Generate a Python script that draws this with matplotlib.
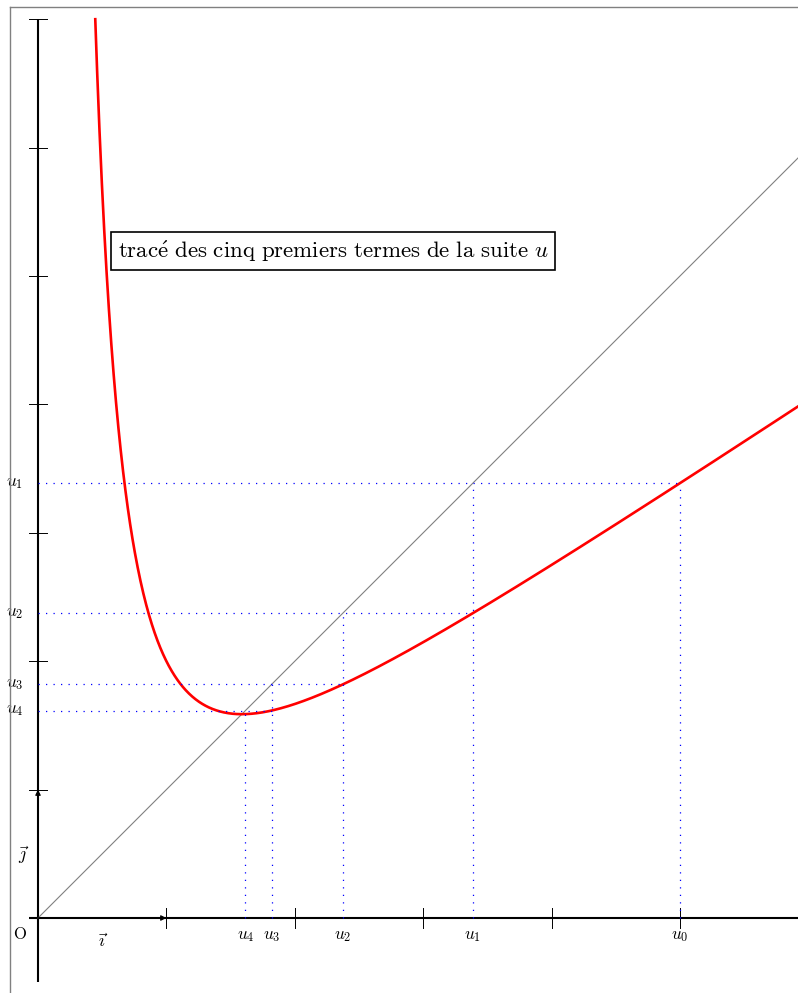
import matplotlib
matplotlib.use("Agg")
import matplotlib.pyplot as plt
import numpy as np

plt.rcParams['mathtext.fontset'] = 'cm'
plt.rcParams['font.family'] = ['serif']
plt.rcParams['font.serif'] = ['cmr10', 'DejaVu Serif']

# termes de la suite
u_vals = [5.0, 3.387, 2.374, 1.819, 1.616]
u_labels = [r'$u_0$', r'$u_1$', r'$u_2$', r'$u_3$', r'$u_4$']
x_ticks = [1, 2, 3, 4, 5]
y_ticks = [1, 2, 3, 4, 5, 6, 7]

def f(x):
    return (2 * x**3 + 4) / (3 * x**2)

fig = plt.figure(figsize=(7.98, 9.93), dpi=100)
ax = fig.add_axes([0, 0, 1, 1])
ax.set_xlim(-38 / 128.4, 760 / 128.4)
ax.set_ylim(-75 / 128.4, 918 / 128.4)
ax.axis('off')

# cadre gris (bords gauche et haut)
fig.add_artist(plt.Line2D([10 / 798, 10 / 798], [0, 1 - 7 / 993], color='gray', lw=1))
fig.add_artist(plt.Line2D([10 / 798, 1], [1 - 7 / 993, 1 - 7 / 993], color='gray', lw=1))

# axes
ax.plot([-0.07, 5.92], [0, 0], color='black', lw=1.5, solid_capstyle='butt')
ax.plot([0, 0], [-0.5, 7], color='black', lw=1.5, solid_capstyle='butt')
for t in x_ticks:
    ax.plot([t, t], [-0.075, 0.075], color='black', lw=0.7)
for t in y_ticks:
    ax.plot([-0.07, 0.07], [t, t], color='black', lw=0.7)

# vecteurs
ax.annotate('', xy=(1, 0), xytext=(0, 0),
            arrowprops=dict(arrowstyle='-|>', color='black', lw=0.8, mutation_scale=8, shrinkA=0, shrinkB=0))
ax.annotate('', xy=(0, 1), xytext=(0, 0),
            arrowprops=dict(arrowstyle='-|>', color='black', lw=0.8, mutation_scale=8, shrinkA=0, shrinkB=0))
ax.text(-0.14, -0.13, 'O', fontsize=12, ha='center', va='center')
ax.text(0.51, -0.18, r'$\vec{\imath}$', fontsize=13, ha='center', va='center')
ax.text(-0.11, 0.49, r'$\vec{\jmath}$', fontsize=13, ha='center', va='center')

# droite y = x
ax.plot([0, 5.92], [0, 5.92], color='gray', lw=0.8)

# courbe, coupée en y = 7
r = np.roots([2, -21, 0, 4]).real
x_start = min(v for v in r if v > 0)
xs = np.linspace(x_start, 5.95, 1500)
ax.plot(xs, f(xs), color='red', lw=1.9)

# escalier
dot = dict(color='blue', lw=0.9, linestyle=(0, (1, 5)))
ax.plot([u_vals[0], u_vals[0]], [0, u_vals[1]], **dot)
for k in range(1, len(u_vals)):
    ax.plot([u_vals[k], u_vals[k]], [0, u_vals[k]], **dot)
    ax.plot([0, u_vals[k - 1]], [u_vals[k], u_vals[k]], **dot)

for k, (v, lab) in enumerate(zip(u_vals, u_labels)):
    ax.text(v, -0.14, lab, fontsize=12.5, ha='center', va='center')
    if k > 0:
        ax.text(-0.18, v, lab, fontsize=12.5, ha='center', va='center')

ax.text(2.297, 5.195, r'$\mathrm{trac\acute{e}\ des\ cinq\ premiers\ termes\ de\ la\ suite}\ u$',
        fontsize=16.5, ha='center', va='center',
        bbox=dict(boxstyle='square,pad=0.3', fc='white', ec='black', lw=1.2))

fig.savefig('out.png', dpi=100)
